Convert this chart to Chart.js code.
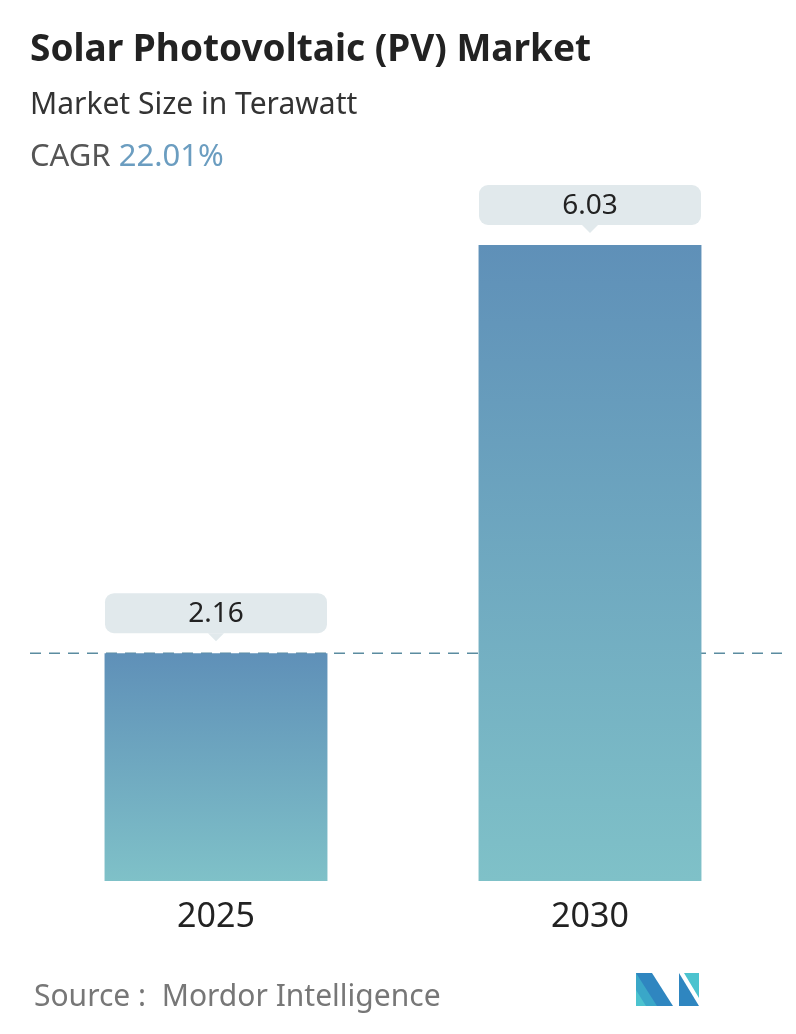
<!DOCTYPE html>
<html><head><meta charset="utf-8">
<script src="https://cdn.jsdelivr.net/npm/chart.js@4"></script>
<style>html,body{margin:0;padding:0;background:#fff;overflow:hidden}#wrap{position:absolute;left:0;top:0;width:796px;height:1034px}</style>
</head><body><div id="wrap"><canvas id="c"></canvas></div>
<script>
const categories = ["2025", "2030"];
const values = [2.16, 6.03];
const valueLabels = ["2.16", "6.03"];
const FONT = "'Noto Sans', 'Open Sans', sans-serif";

const deco = {
  id: 'deco',
  beforeDatasetsDraw(chart) {
    const ctx = chart.ctx, y = chart.scales.y;
    const yy = y.getPixelForValue(values[0]);
    ctx.save();
    ctx.strokeStyle = '#5b8ca0'; ctx.lineWidth = 1.5; ctx.setLineDash([11, 8]);
    ctx.beginPath(); ctx.moveTo(30, yy); ctx.lineTo(782, yy); ctx.stroke();
    ctx.restore();
  },
  afterDraw(chart) {
    const ctx = chart.ctx, x = chart.scales.x;
    ctx.save();
    ctx.textBaseline = 'alphabetic'; ctx.textAlign = 'left';
    ctx.fillStyle = '#222'; ctx.font = `bold 37px ${FONT}`;
    ctx.fillText('Solar Photovoltaic (PV) Market', 30, 61);
    ctx.fillStyle = '#333'; ctx.font = `30px ${FONT}`;
    ctx.fillText('Market Size in Terawatt', 30, 114);
    ctx.fillStyle = '#555'; ctx.font = `31px ${FONT}`;
    ctx.fillText('CAGR', 30, 166);
    const w = ctx.measureText('CAGR ').width;
    ctx.fillStyle = '#6b9dc0'; ctx.fillText('22.01%', 30 + w, 166);
    ctx.fillStyle = '#777'; ctx.font = `30px ${FONT}`;
    ctx.fillText('Source :  Mordor Intelligence', 34, 1006);
    ctx.textAlign = 'center'; ctx.fillStyle = '#222'; ctx.font = `34px ${FONT}`;
    categories.forEach((c, i) => ctx.fillText(c, x.getPixelForValue(i), 927));
    const meta = chart.getDatasetMeta(0);
    meta.data.forEach((bar, i) => {
      const cx = bar.x, bw = 222, bh = 40, top = bar.y - 60;
      ctx.fillStyle = '#e1e9ec';
      ctx.beginPath(); ctx.roundRect(cx - bw / 2, top, bw, bh, 9); ctx.fill();
      ctx.beginPath(); ctx.moveTo(cx - 8, top + bh); ctx.lineTo(cx, top + bh + 8); ctx.lineTo(cx + 8, top + bh); ctx.fill();
      ctx.fillStyle = '#222'; ctx.font = `28px ${FONT}`; ctx.textBaseline = 'middle';
      ctx.fillText(valueLabels[i], cx, top + bh / 2 + 1);
      ctx.textBaseline = 'alphabetic';
    });
    ctx.fillStyle = '#3aa7c8';
    ctx.beginPath(); ctx.moveTo(636, 973); ctx.lineTo(650, 973); ctx.lineTo(671, 1006); ctx.lineTo(636, 1006); ctx.fill();
    ctx.fillStyle = '#2f86c0';
    ctx.beginPath(); ctx.moveTo(636, 973); ctx.lineTo(652, 973); ctx.lineTo(673, 1006); ctx.lineTo(657, 1006); ctx.fill();
    ctx.fillStyle = '#4cc3cf';
    ctx.beginPath(); ctx.moveTo(636, 990); ctx.lineTo(646, 1006); ctx.lineTo(636, 1006); ctx.fill();
    ctx.fillStyle = '#2f86c0';
    ctx.beginPath(); ctx.moveTo(679, 973); ctx.lineTo(699, 1006); ctx.lineTo(679, 1006); ctx.fill();
    ctx.fillStyle = '#4cc3cf';
    ctx.beginPath(); ctx.moveTo(684, 973); ctx.lineTo(699, 973); ctx.lineTo(699, 998); ctx.fill();
    ctx.restore();
  }
};

new Chart(document.getElementById('c'), {
  type: 'bar',
  data: { labels: categories, datasets: [{ data: values,
    backgroundColor: (c) => {
      const a = c.chart.chartArea, y = c.chart.scales.y;
      if (!a || !y) return '#6a9fbf';
      const top = y.getPixelForValue(values[c.dataIndex]);
      const g = c.chart.ctx.createLinearGradient(0, top, 0, a.bottom);
      g.addColorStop(0, '#5f90b8'); g.addColorStop(1, '#7fc1c8'); return g;
    },
    barPercentage: 0.596, categoryPercentage: 1 }] },
  options: {
    responsive: true, maintainAspectRatio: false, animation: false,
    layout: { padding: { top: 245, bottom: 153, left: 29, right: 19 } },
    plugins: { legend: { display: false }, tooltip: { enabled: false } },
    scales: {
      x: { display: false },
      y: { display: false, min: 0, max: 6.03 }
    }
  },
  plugins: [deco]
});
</script></body></html>
